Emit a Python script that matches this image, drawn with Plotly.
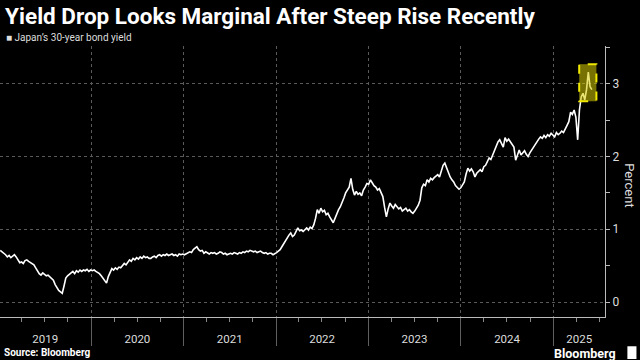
import pandas as pd
import plotly.graph_objects as go

# Weekly readings of Japan's 30-year bond yield (percent), starting 2019-01-07
start_date = "2019-01-07"
y2019 = [0.71, 0.69, 0.68, 0.65, 0.62, 0.64, 0.61, 0.63, 0.65, 0.62, 0.58, 0.54, 0.55,
         0.53, 0.57, 0.58, 0.56, 0.54, 0.52, 0.51, 0.47, 0.42, 0.39, 0.37, 0.40, 0.38,
         0.36, 0.37, 0.35, 0.33, 0.30, 0.24, 0.19, 0.16, 0.14, 0.12, 0.22, 0.33, 0.36,
         0.38, 0.40, 0.42, 0.39, 0.43, 0.41, 0.44, 0.42, 0.44, 0.43, 0.45, 0.42, 0.44]
y2020 = [0.43, 0.44, 0.42, 0.41, 0.39, 0.36, 0.33, 0.30, 0.26, 0.35, 0.42, 0.46, 0.44,
         0.47, 0.45, 0.48, 0.47, 0.50, 0.53, 0.51, 0.55, 0.58, 0.56, 0.60, 0.58, 0.61,
         0.59, 0.62, 0.60, 0.63, 0.61, 0.62, 0.60, 0.60, 0.62, 0.63, 0.61, 0.64, 0.65,
         0.63, 0.65, 0.64, 0.66, 0.64, 0.65, 0.66, 0.64, 0.65, 0.63, 0.66, 0.65, 0.66]
y2021 = [0.65, 0.66, 0.68, 0.69, 0.68, 0.72, 0.74, 0.76, 0.72, 0.70, 0.71, 0.67, 0.69,
         0.68, 0.66, 0.68, 0.67, 0.68, 0.66, 0.67, 0.69, 0.68, 0.66, 0.67, 0.65, 0.66,
         0.67, 0.66, 0.68, 0.67, 0.66, 0.68, 0.67, 0.69, 0.68, 0.70, 0.69, 0.71, 0.70,
         0.69, 0.70, 0.68, 0.69, 0.70, 0.68, 0.67, 0.68, 0.66, 0.67, 0.67, 0.65, 0.66]
y2022 = [0.68, 0.70, 0.72, 0.76, 0.80, 0.85, 0.88, 0.92, 0.95, 0.90, 0.92, 0.97, 1.02,
         0.98, 0.99, 0.97, 1.00, 1.02, 0.99, 1.03, 1.01, 1.06, 1.15, 1.27, 1.22, 1.29,
         1.24, 1.26, 1.20, 1.22, 1.17, 1.12, 1.09, 1.15, 1.22, 1.27, 1.31, 1.36, 1.43,
         1.50, 1.55, 1.58, 1.70, 1.55, 1.47, 1.52, 1.48, 1.50, 1.46, 1.54, 1.58, 1.63]
y2023 = [1.62, 1.68, 1.64, 1.60, 1.58, 1.54, 1.56, 1.51, 1.45, 1.30, 1.17, 1.28, 1.36,
         1.32, 1.29, 1.34, 1.31, 1.28, 1.30, 1.25, 1.27, 1.29, 1.25, 1.27, 1.24, 1.22,
         1.25, 1.29, 1.33, 1.40, 1.57, 1.62, 1.60, 1.68, 1.65, 1.70, 1.68, 1.71, 1.73,
         1.75, 1.72, 1.79, 1.88, 1.91, 1.84, 1.77, 1.72, 1.68, 1.65, 1.60, 1.57, 1.55]
y2024 = [1.57, 1.62, 1.65, 1.76, 1.84, 1.80, 1.83, 1.79, 1.72, 1.77, 1.80, 1.82, 1.79,
         1.86, 1.88, 1.93, 1.98, 1.96, 2.02, 2.06, 2.12, 2.20, 2.23, 2.17, 2.13, 2.26,
         2.21, 2.24, 2.20, 2.16, 2.13, 1.95, 2.03, 2.09, 2.02, 2.05, 2.08, 2.03, 2.00,
         2.05, 2.09, 2.13, 2.17, 2.20, 2.24, 2.27, 2.25, 2.29, 2.26, 2.30, 2.28, 2.32]
y2025 = [2.30, 2.27, 2.33, 2.30, 2.32, 2.35, 2.33, 2.37, 2.43, 2.48, 2.61, 2.58, 2.64,
         2.54, 2.23, 2.64, 2.82, 2.87, 2.78, 2.92, 3.16, 2.96, 2.92]

yields = y2019 + y2020 + y2021 + y2022 + y2023 + y2024 + y2025
dates = pd.date_range(start_date, periods=len(yields), freq="7D")

series_name = "Japan\u2019s 30-year bond yield"
title_text = "Yield Drop Looks Marginal After Steep Rise Recently"
source_text = "Source: Bloomberg"
brand_text = "Bloomberg"
axis_title = "Percent"
y_ticks = [0, 1, 2, 3]

# year labels, centred in the visible part of each year
year_labels = ["2019", "2020", "2021", "2022", "2023", "2024", "2025"]
year_label_dates = ["2019-07-04", "2020-07-02", "2021-07-02", "2022-07-02",
                    "2023-07-02", "2024-07-02", "2025-04-13"]

# highlighted recent window
highlight_start = "2025-04-13"
highlight_end = "2025-06-20"
highlight_low = 2.76
highlight_high = 3.27

x_range = ["2019-01-06", "2025-07-24"]
y_range = [-0.206, 3.52]

FONT = "Roboto"
GRID = "#5a5a5a"

fig = go.Figure()
fig.add_trace(go.Scatter(x=dates, y=yields, mode="lines",
                         line=dict(color="#ffffff", width=1.6),
                         name=series_name, showlegend=False))
# invisible helper trace so the label axis is drawn
fig.add_trace(go.Scatter(x=[dates[0]], y=[None], xaxis="x2", mode="lines",
                         showlegend=False, hoverinfo="skip"))

fig.add_shape(type="rect", xref="x", yref="y",
              x0=highlight_start, x1=highlight_end,
              y0=highlight_low, y1=highlight_high,
              fillcolor="rgba(215,205,0,0.55)",
              line=dict(color="#f0e800", width=2, dash="dash"), layer="above")

fig.update_layout(
    width=640, height=360,
    paper_bgcolor="#000000", plot_bgcolor="#000000",
    margin=dict(l=0, r=35, t=46, b=43),
    font=dict(family=FONT, color="#dddddd", size=11),
    title=dict(text=title_text, x=0.008, xanchor="left", xref="container",
               y=0.955, yanchor="middle", yref="container",
               font=dict(family=FONT, size=22.5, color="#ffffff", weight="bold")),
    xaxis=dict(type="date", range=x_range, showgrid=True, griddash="dot",
               gridcolor=GRID, gridwidth=1,
               tick0="2019-01-01", dtick="M12", ticks="outside", ticklen=28,
               tickcolor="#5f5f5f", tickwidth=1, showticklabels=False,
               showline=True, linecolor="#bbbbbb", linewidth=1,
               minor=dict(dtick="M3", tick0="2019-01-01", ticks="outside",
                          ticklen=4, tickcolor="#888888", showgrid=False),
               zeroline=False, automargin=False),
    xaxis2=dict(type="date", range=x_range, overlaying="x", anchor="y", side="bottom",
                tickvals=year_label_dates, ticktext=year_labels,
                ticks="outside", ticklen=11,
                tickcolor="rgba(0,0,0,0)", showgrid=False, showline=False,
                zeroline=False, tickfont=dict(size=11.5, color="#dddddd", family=FONT),
                automargin=False),
    yaxis=dict(side="right", range=y_range, tickvals=y_ticks,
               showgrid=True, griddash="dot", gridcolor=GRID, gridwidth=1,
               showline=True, linecolor="#bbbbbb", linewidth=1,
               ticks="outside", ticklen=4, tickcolor="#bbbbbb",
               minor=dict(dtick=0.5, tick0=0, ticks="outside", ticklen=4,
                          tickcolor="#bbbbbb", showgrid=False),
               tickfont=dict(size=12, color="#dddddd", family=FONT),
               zeroline=False, automargin=False),
    showlegend=False,
)

# legend key
fig.add_annotation(text="\u25a0 " + series_name, xref="paper", yref="paper",
                   x=0.006, y=1.033, xanchor="left", yanchor="middle",
                   showarrow=False, font=dict(size=10, color="#dddddd", family=FONT))
# axis title on the right, reading downwards
fig.add_annotation(text=axis_title, xref="paper", yref="paper",
                   x=1.041, y=0.487, xanchor="center", yanchor="middle",
                   textangle=90, showarrow=False,
                   font=dict(size=13, color="#dddddd", family=FONT))
# footer
fig.add_annotation(text="<b>" + source_text + "</b>", xref="paper", yref="paper",
                   x=0.004, y=-0.13, xanchor="left", yanchor="middle",
                   showarrow=False, font=dict(size=10, color="#ffffff", family=FONT))
fig.add_annotation(text="<b>" + brand_text + "</b>", xref="paper", yref="paper",
                   x=1.022, y=-0.134, xanchor="right", yanchor="middle",
                   showarrow=False, font=dict(size=12.5, color="#ffffff", family=FONT))
fig.add_shape(type="rect", xref="paper", yref="paper",
              x0=1.037, x1=1.052, y0=-0.155, y1=-0.108,
              fillcolor="#ffffff", line=dict(width=0))

fig.write_html("out.html", config={"displayModeBar": False},
               post_script="document.body.style.margin='0';document.body.style.padding='0';")
